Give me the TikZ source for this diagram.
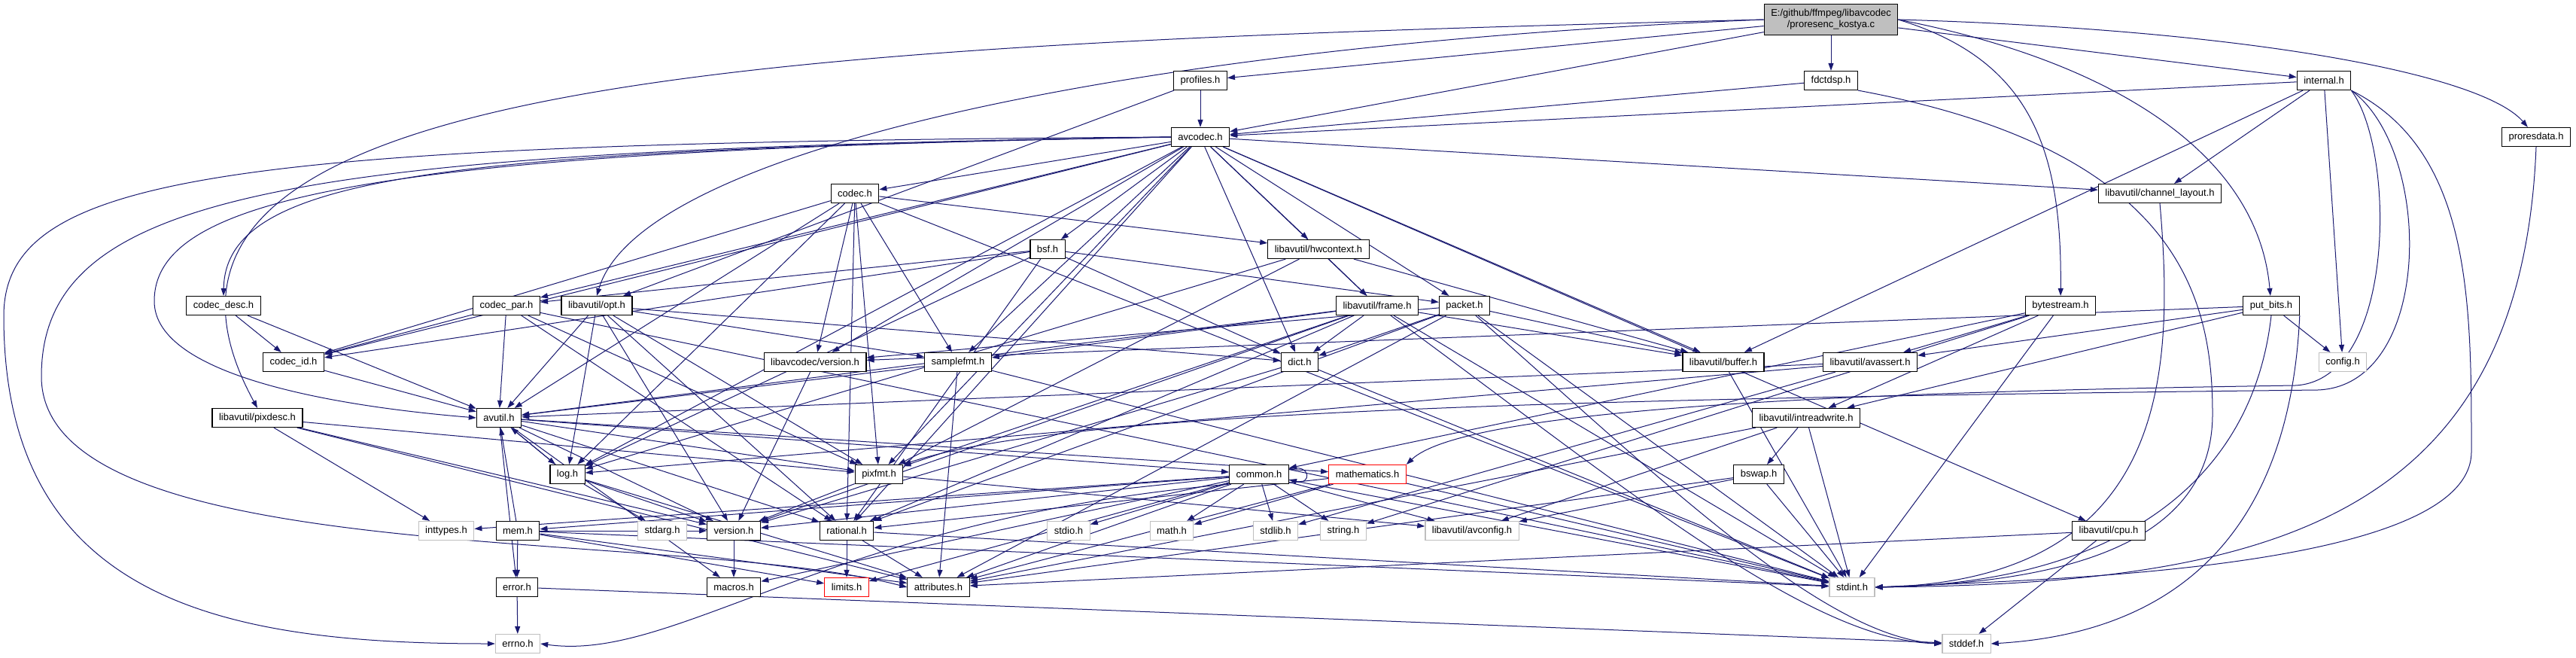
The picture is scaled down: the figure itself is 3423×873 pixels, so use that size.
\documentclass[tikz,border=0pt]{standalone}
\usepackage{fontspec}
\setmainfont{Liberation Sans}
\usepackage{xcolor}
\usepackage{tikz}
\usetikzlibrary{arrows.meta}
\definecolor{edgeblue}{HTML}{191970}
\definecolor{missgray}{HTML}{BFBFBF}
\pgfdeclarelayer{bg}
\pgfsetlayers{bg,main}

\begin{document}
\begin{tikzpicture}[x=1pt, y=1pt,
  hfile/.style={rectangle, draw=black, line width=1.2pt, fill=white, minimum height=25pt, inner xsep=9pt, inner ysep=0pt, font=\fontsize{13}{15}\selectfont},
  sysfile/.style={hfile, draw=missgray},
  trunc/.style={hfile, draw=red},
  rootfile/.style={hfile, fill=missgray, align=center, minimum height=41pt},
  line/.style={draw=edgeblue, line width=1pt, -{Triangle[length=10pt,width=7pt]}}
]
  \useasboundingbox (0,0) rectangle (3423,-873);

  % files
  \node[rootfile] (root) at (2433,-26) {E:/github/ffmpeg/libavcodec\\/proresenc\_kostya.c};
  \node[hfile] (profiles) at (1595,-107) {profiles.h};
  \node[hfile] (fdctdsp) at (2433,-107) {fdctdsp.h};
  \node[hfile] (internal) at (3088,-107) {internal.h};
  \node[hfile] (avcodec) at (1595,-182) {avcodec.h};
  \node[hfile] (proresdata) at (3370,-182) {proresdata.h};
  \node[hfile] (codec) at (1136,-257) {codec.h};
  \node[hfile] (chlayout) at (2870,-257) {libavutil/channel\_layout.h};
  \node[hfile] (bsf) at (1392,-331) {bsf.h};
  \node[hfile] (hwcontext) at (1752,-331) {libavutil/hwcontext.h};
  \node[hfile] (codecdesc) at (297,-406) {codec\_desc.h};
  \node[hfile] (codecpar) at (673,-406) {codec\_par.h};
  \node[hfile] (opt) at (793,-406) {libavutil/opt.h};
  \node[hfile] (frame) at (1830,-406) {libavutil/frame.h};
  \node[hfile] (packet) at (1946,-406) {packet.h};
  \node[hfile] (bytestream) at (2738,-406) {bytestream.h};
  \node[hfile] (putbits) at (3018,-406) {put\_bits.h};
  \node[hfile] (codecid) at (390,-481) {codec\_id.h};
  \node[hfile] (lavcversion) at (1083,-481) {libavcodec/version.h};
  \node[hfile] (samplefmt) at (1273,-481) {samplefmt.h};
  \node[hfile] (dict) at (1727,-481) {dict.h};
  \node[hfile] (buffer) at (2290,-481) {libavutil/buffer.h};
  \node[hfile] (avassert) at (2485,-481) {libavutil/avassert.h};
  \node[sysfile] (config) at (3113,-481) {config.h};
  \node[hfile] (pixdesc) at (342,-555) {libavutil/pixdesc.h};
  \node[hfile] (avutil) at (663,-555) {avutil.h};
  \node[hfile] (intreadwrite) at (2400,-555) {libavutil/intreadwrite.h};
  \node[hfile] (log) at (754,-630) {log.h};
  \node[hfile] (pixfmt) at (1168,-630) {pixfmt.h};
  \node[hfile] (common) at (1673,-630) {common.h};
  \node[trunc] (mathematics) at (1817,-630) {mathematics.h};
  \node[hfile] (bswap) at (2337,-630) {bswap.h};
  \node[sysfile] (inttypes) at (593,-705) {inttypes.h};
  \node[hfile] (mem) at (688,-705) {mem.h};
  \node[sysfile] (stdarg) at (880,-705) {stdarg.h};
  \node[hfile] (version) at (975,-705) {version.h};
  \node[hfile] (rational) at (1125,-705) {rational.h};
  \node[sysfile] (stdio) at (1420,-705) {stdio.h};
  \node[sysfile] (math) at (1557,-705) {math.h};
  \node[sysfile] (stdlib) at (1695,-705) {stdlib.h};
  \node[sysfile] (string) at (1785,-705) {string.h};
  \node[sysfile] (avconfig) at (1956,-705) {libavutil/avconfig.h};
  \node[hfile] (cpu) at (2802,-705) {libavutil/cpu.h};
  \node[hfile] (error) at (687,-780) {error.h};
  \node[hfile] (macros) at (975,-780) {macros.h};
  \node[trunc] (limits) at (1125,-780) {limits.h};
  \node[hfile] (attributes) at (1247,-780) {attributes.h};
  \node[sysfile] (stdint) at (2461,-780) {stdint.h};
  \node[sysfile] (errno) at (688,-855) {errno.h};
  \node[sysfile] (stddef) at (2613,-855) {stddef.h};

  \begin{pgfonlayer}{bg}
  \fill[white] (0,0) rectangle (3423,-873);
  % proresenc_kostya.c
  \path[line] (root) -- (profiles);
  \path[line] (root) -- (avcodec);
  \path[line] (root) -- (fdctdsp);
  \path[line] (root) -- (internal);
  \path[line] (root.east) .. controls (3000,-40) and (3300,-100) .. (proresdata);
  \path[line] (root.east) .. controls (2700,-80) and (2740,-200) .. (bytestream);
  \path[line] (root.east) .. controls (2800,-80) and (3000,-200) .. (putbits);
  \path[line] (root.west) .. controls (1500,-60) and (850,-200) .. (opt.north);
  \path[line] (root.west) .. controls (1000,-60) and (100,-100) .. (pixdesc.north);

  \path[line] (profiles) -- (avcodec);
  \path[line] (profiles) -- (opt);
  \path[line] (fdctdsp) -- (avcodec);
  \path[line] (fdctdsp.south east) .. controls (2900,-200) and (2940,-400) .. (2940,-550) .. controls (2940,-740) and (2700,-775) .. (stdint.east);

  % internal.h
  \path[line] (internal) -- (avcodec);
  \path[line] (internal) -- (chlayout);
  \path[line] (internal) -- (config);
  \path[line] (internal) -- (buffer);
  \path[line] (internal.south east) .. controls (3184,-200) and (3184,-505) .. (3050,-512) .. controls (2500,-520) and (1950,-540) .. (mathematics.north east);
  \path[line] (internal.south east) .. controls (3234,-200) and (3234,-512) .. (3080,-518) .. controls (2000,-530) and (1400,-550) .. (pixfmt.north east);
  \path[line] (internal.south east) .. controls (3284,-200) and (3284,-400) .. (3284,-600) .. controls (3284,-760) and (2700,-770) .. (stdint.east);
  \path[line] (proresdata.south) .. controls (3350,-700) and (3000,-775) .. (stdint.east);

  % avcodec.h
  \path[line] (avcodec.west) .. controls (300,-190) and (5,-230) .. (5,-420) .. controls (5,-800) and (300,-855) .. (errno.west);
  \path[line] (avcodec.west) .. controls (400,-200) and (55,-250) .. (55,-500) .. controls (55,-760) and (900,-700) .. (attributes.west);
  \path[line] (avcodec.west) .. controls (500,-200) and (205,-260) .. (205,-400) .. controls (205,-500) and (450,-540) .. (avutil.west);
  \path[line] (avcodec.west) .. controls (600,-200) and (300,-230) .. (codecdesc.north);
  \path[line] (avcodec) -- (samplefmt);
  \path[line] (avcodec) -- (buffer);
  \path[line] (avcodec) -- (cpu);
  \path[line] (avcodec) -- (chlayout);
  \path[line] (avcodec) -- (dict);
  \path[line] (avcodec) -- (frame);
  \path[line] (avcodec) -- (hwcontext);
  \path[line] (avcodec) -- (log);
  \path[line] (avcodec) -- (pixfmt);
  \path[line] (avcodec) -- (rational);
  \path[line] (avcodec) -- (bsf);
  \path[line] (avcodec) -- (codec);
  \path[line] (avcodec) -- (codecpar);
  \path[line] (avcodec) -- (codecid);
  \path[line] (avcodec) -- (packet);
  \path[line] (avcodec) -- (lavcversion);

  % codec.h
  \path[line] (codec) -- (stdint);
  \path[line] (codec) -- (avutil);
  \path[line] (codec) -- (hwcontext);
  \path[line] (codec) -- (log);
  \path[line] (codec) -- (pixfmt);
  \path[line] (codec) -- (rational);
  \path[line] (codec) -- (samplefmt);
  \path[line] (codec) -- (codecid);
  \path[line] (codec) -- (lavcversion);

  \path[line] (chlayout.south) .. controls (2890,-500) and (2880,-770) .. (stdint.east);

  % bsf.h
  \path[line] (bsf) -- (dict);
  \path[line] (bsf) -- (log);
  \path[line] (bsf) -- (rational);
  \path[line] (bsf) -- (codecid);
  \path[line] (bsf) -- (codecpar);
  \path[line] (bsf) -- (packet);

  % libavutil/hwcontext.h
  \path[line] (hwcontext) -- (buffer);
  \path[line] (hwcontext) -- (frame);
  \path[line] (hwcontext) -- (log);
  \path[line] (hwcontext) -- (pixfmt);

  \path[line] (codecdesc) -- (avutil);
  \path[line] (codecdesc) -- (codecid);

  % codec_par.h
  \path[line] (codecpar) -- (stdint);
  \path[line] (codecpar) -- (avutil);
  \path[line] (codecpar) -- (rational);
  \path[line] (codecpar) -- (pixfmt);
  \path[line] (codecpar) -- (codecid);

  % libavutil/opt.h
  \path[line] (opt) -- (rational);
  \path[line] (opt) -- (avutil);
  \path[line] (opt) -- (dict);
  \path[line] (opt) -- (log);
  \path[line] (opt) -- (pixfmt);
  \path[line] (opt) -- (samplefmt);
  \path[line] (opt) -- (version);

  % libavutil/frame.h
  \path[line] (frame) .. controls (2150,-640) and (2400,-850) .. (stddef.west);
  \path[line] (frame) -- (stdint);
  \path[line] (frame) -- (avutil);
  \path[line] (frame) -- (buffer);
  \path[line] (frame) -- (dict);
  \path[line] (frame) -- (rational);
  \path[line] (frame) -- (samplefmt);
  \path[line] (frame) -- (pixfmt);
  \path[line] (frame) -- (version);

  % packet.h
  \path[line] (packet) .. controls (2200,-630) and (2420,-845) .. (stddef.west);
  \path[line] (packet) -- (stdint);
  \path[line] (packet) -- (attributes);
  \path[line] (packet) -- (buffer);
  \path[line] (packet) -- (dict);
  \path[line] (packet) -- (rational);
  \path[line] (packet) -- (lavcversion);

  % bytestream.h, put_bits.h
  \path[line] (bytestream) -- (stdint);
  \path[line] (bytestream) -- (string);
  \path[line] (bytestream) -- (avassert);
  \path[line] (bytestream) -- (common);
  \path[line] (bytestream) -- (intreadwrite);
  \path[line] (putbits.south) .. controls (2992,-650) and (2800,-775) .. (stdint.east);
  \path[line] (putbits.south east) .. controls (3043,-700) and (2900,-840) .. (stddef.east);
  \path[line] (putbits) -- (config);
  \path[line] (putbits) -- (intreadwrite);
  \path[line] (putbits) -- (avassert);
  \path[line] (putbits) -- (lavcversion);

  \path[line] (codecid) -- (avutil);
  \path[line] (lavcversion) -- (version);
  \path[line] (samplefmt) -- (stdint);
  \path[line] (samplefmt) -- (avutil);
  \path[line] (samplefmt) -- (attributes);
  \path[line] (dict) -- (stdint);
  \path[line] (dict) -- (version);
  \path[line] (buffer) -- (stdint);
  \path[line] (avassert) -- (stdlib);
  \path[line] (avassert) -- (avutil);
  \path[line] (avassert) -- (log);

  % libavutil/pixdesc.h
  \path[line] (pixdesc) -- (inttypes);
  \path[line] (pixdesc) -- (attributes);
  \path[line] (pixdesc) -- (pixfmt);
  \path[line] (pixdesc) -- (version);

  % avutil.h
  \path[line] (avutil) -- (common);
  \path[line] (avutil) -- (error);
  \path[line] (avutil) -- (rational);
  \path[line] (avutil) -- (version);
  \path[line] (avutil) -- (macros);
  \path[line] (avutil) -- (mathematics);
  \path[line] (avutil) -- (log);
  \path[line] (avutil) -- (pixfmt);

  % libavutil/intreadwrite.h
  \path[line] (intreadwrite) -- (stdint);
  \path[line] (intreadwrite) -- (avconfig);
  \path[line] (intreadwrite) -- (attributes);
  \path[line] (intreadwrite) -- (bswap);

  % log.h, pixfmt.h
  \path[line] (log) -- (stdarg);
  \path[line] (log) -- (avutil);
  \path[line] (log) -- (attributes);
  \path[line] (log) -- (version);
  \path[line] (pixfmt) -- (avconfig);
  \path[line] (pixfmt) -- (version);

  % common.h
  \path[line] (common.south west) .. controls (1100,-690) and (900,-880) .. (errno.east);
  \path[line] (common) -- (inttypes);
  \path[line] (common) -- (limits);
  \path[line] (common) -- (math);
  \path[line] (common) -- (stdint);
  \path[line] (common) -- (stdio);
  \path[line] (common) -- (stdlib);
  \path[line] (common) -- (string);
  \path[line] (common) -- (attributes);
  \path[line] (common) -- (macros);
  \path[line] (common) -- (version);
  \path[line] (common) -- (avconfig);
  \path[line] (common) -- (mem);
  \path[line] ([yshift=7pt]common.east) .. controls +(30,8) and +(30,-8) .. ([yshift=-7pt]common.east);

  % mathematics.h, bswap.h
  \path[line] (mathematics) -- (stdint);
  \path[line] (mathematics) -- (math);
  \path[line] (mathematics) -- (attributes);
  \path[line] (mathematics) -- (rational);
  \path[line] (bswap) -- (stdint);
  \path[line] (bswap) -- (avconfig);
  \path[line] (bswap) -- (attributes);

  % mem.h
  \path[line] (mem) -- (limits);
  \path[line] (mem) -- (stdint);
  \path[line] (mem) -- (attributes);
  \path[line] (mem) -- (error);
  \path[line] (mem) -- (avutil);
  \path[line] (mem) -- (version);

  \path[line] (version) -- (macros);
  \path[line] (rational) -- (stdint);
  \path[line] (rational) -- (limits);
  \path[line] (rational) -- (attributes);
  \path[line] (cpu) -- (stddef);
  \path[line] (cpu) -- (attributes);
  \path[line] (error) -- (errno);
  \path[line] (error) -- (stddef);
  \end{pgfonlayer}
\end{tikzpicture}
\end{document}
